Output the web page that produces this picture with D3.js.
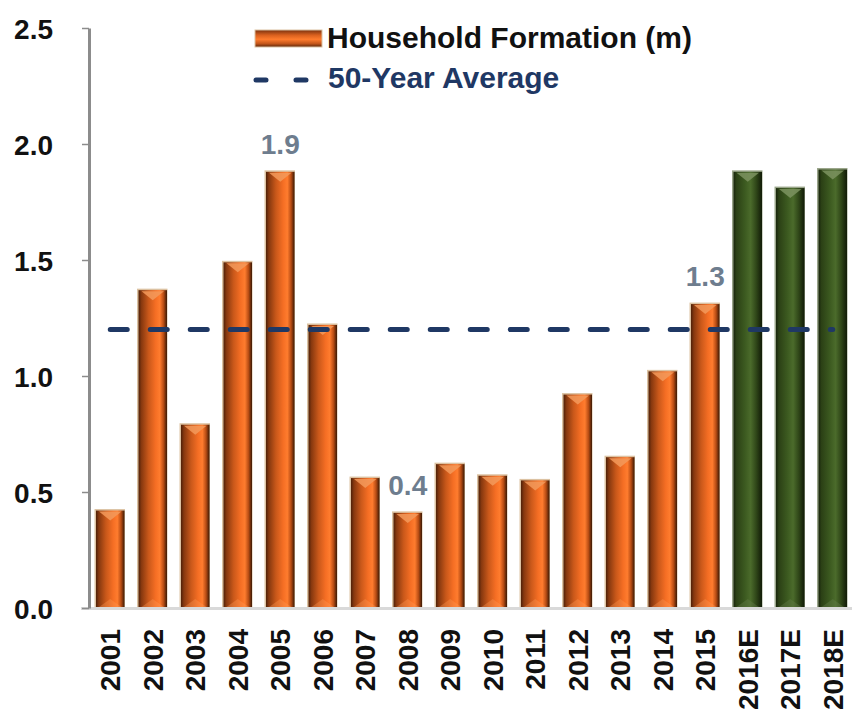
<!DOCTYPE html>
<html>
<head>
<meta charset="utf-8">
<script src="https://cdn.jsdelivr.net/npm/d3@7"></script>
<style>
  body { margin: 0; background: #fff; }
  svg { display: block; font-family: "Liberation Sans", Arial, sans-serif; }
</style>
</head>
<body>
<div id="chart"></div>
<script>
// chart data
const years = ["2001", "2002", "2003", "2004", "2005", "2006", "2007", "2008", "2009",
  "2010", "2011", "2012", "2013", "2014", "2015", "2016E", "2017E", "2018E"];
const formation = [0.42, 1.37, 0.79, 1.49, 1.88, 1.22, 0.56, 0.41, 0.62,
  0.57, 0.55, 0.92, 0.65, 1.02, 1.31, 1.88, 1.81, 1.89];
const estimateYears = ["2016E", "2017E", "2018E"];
const average50 = 1.2;
const yTicks = [0, 0.5, 1.0, 1.5, 2.0, 2.5];
const labelYears = ["2005", "2008", "2015"];
const labelTexts = ["1.9", "0.4", "1.3"];
const legendNames = ["Household Formation (m)", "50-Year Average"];

const width = 852, height = 713;
const margin = {top: 28, right: 0, bottom: 105, left: 89};

const svg = d3.select("#chart").append("svg")
  .attr("width", width)
  .attr("height", height);

const defs = svg.append("defs");

// gradients for the bevelled bars
function hGrad(id, stops) {
  const g = defs.append("linearGradient").attr("id", id)
    .attr("x1", "0%").attr("x2", "100%").attr("y1", "0%").attr("y2", "0%");
  stops.forEach(s => g.append("stop").attr("offset", s[0]).attr("stop-color", s[1]));
}
hGrad("orange", [["0%", "#4e2008"], ["10%", "#86380f"], ["35%", "#c9581a"], ["60%", "#f56e24"],
  ["75%", "#ff7c2e"], ["88%", "#b74c14"], ["100%", "#3a1804"]]);
hGrad("green", [["0%", "#18240b"], ["10%", "#2b4015"], ["40%", "#3c5a20"], ["60%", "#4b6b2b"],
  ["80%", "#2f4618"], ["100%", "#111a07"]]);

const sw = defs.append("linearGradient").attr("id", "swatch")
  .attr("x1", "0%").attr("x2", "0%").attr("y1", "0%").attr("y2", "100%");
[["0%", "#7a3210"], ["30%", "#d9601e"], ["55%", "#ff7c2e"], ["80%", "#c4561a"], ["100%", "#5c260a"]]
  .forEach(s => sw.append("stop").attr("offset", s[0]).attr("stop-color", s[1]));

const x = d3.scaleBand()
  .domain(years)
  .range([margin.left, width + 2])
  .paddingInner(0.33)
  .paddingOuter(0.165);

const y = d3.scaleLinear()
  .domain([0, 2.5])
  .range([height - margin.bottom, margin.top]);

// baseline
svg.append("line")
  .attr("x1", margin.left - 8).attr("x2", width)
  .attr("y1", y(0) + 0.5).attr("y2", y(0) + 0.5)
  .attr("stroke", "#d9d9d9").attr("stroke-width", 3);

// bars
const bars = svg.selectAll("g.bar")
  .data(years.map((d, i) => ({year: d, value: formation[i]})))
  .enter().append("g")
  .attr("class", "bar");

const bw = x.bandwidth();
const isEst = d => estimateYears.includes(d.year);

bars.append("rect")
  .attr("x", d => x(d.year) - 1.5)
  .attr("y", d => y(d.value) - 1.5)
  .attr("width", bw + 2)
  .attr("height", d => y(0) - y(d.value) + 0.5)
  .attr("fill", d => isEst(d) ? "#9aa58a" : "#dcc2a2");

bars.append("rect")
  .attr("x", d => x(d.year))
  .attr("y", d => y(d.value))
  .attr("width", bw)
  .attr("height", d => y(0) - y(d.value) - 1)
  .attr("fill", d => isEst(d) ? "url(#green)" : "url(#orange)");

// top chevron
bars.append("polygon")
  .attr("points", d => {
    const x0 = x(d.year), y0 = y(d.value);
    return [[x0 + 3, y0 + 1], [x0 + bw - 3, y0 + 1], [x0 + bw / 2, y0 + 10]].join(" ");
  })
  .attr("fill", d => isEst(d) ? "#7d9360" : "#f39a5c")
  .attr("opacity", 0.85);

// bottom bevel
bars.append("polygon")
  .attr("points", d => {
    const x0 = x(d.year), y1 = y(0) - 1;
    return [[x0 + 3, y1], [x0 + bw - 3, y1], [x0 + bw / 2, y1 - 8]].join(" ");
  })
  .attr("fill", d => isEst(d) ? "#6a8050" : "#ff9a55")
  .attr("opacity", 0.35);

// 50-year average line, from first to last bar centre
svg.append("line")
  .attr("x1", x(years[0]) + bw / 2)
  .attr("x2", x(years[years.length - 1]) + bw / 2)
  .attr("y1", y(average50)).attr("y2", y(average50))
  .attr("stroke", "#1f3864")
  .attr("stroke-width", 5)
  .attr("stroke-linecap", "round")
  .attr("stroke-dasharray", "17,23");

// y axis
const yAxis = svg.append("g")
  .attr("transform", `translate(${margin.left},0)`)
  .call(d3.axisLeft(y).tickValues(yTicks).tickFormat(d3.format(".1f")).tickSize(7).tickSizeOuter(0));
yAxis.select(".domain").attr("stroke", "#8c8c8c").attr("stroke-width", 3);
yAxis.selectAll(".tick line").attr("stroke", "#8c8c8c").attr("stroke-width", 1.5);
yAxis.selectAll(".tick text")
  .attr("x", -36)
  .attr("dy", "0.36em")
  .attr("fill", "#111")
  .style("font-size", "28px")
  .style("font-weight", "bold");

// x axis labels
const xAxis = svg.append("g")
  .attr("transform", `translate(0,${y(0)})`)
  .call(d3.axisBottom(x).tickSize(0));
xAxis.select(".domain").remove();
xAxis.selectAll(".tick text")
  .attr("transform", "rotate(-90)")
  .attr("x", -21)
  .attr("y", 0)
  .attr("dy", "0.36em")
  .style("text-anchor", "end")
  .attr("fill", "#111")
  .style("font-size", "28px")
  .style("font-weight", "bold");

// value labels
svg.selectAll("text.value")
  .data(labelYears)
  .enter().append("text")
  .attr("class", "value")
  .attr("x", d => x(d) + bw / 2)
  .attr("y", d => y(formation[years.indexOf(d)]) - 18)
  .attr("text-anchor", "middle")
  .attr("fill", "#6e7d8e")
  .style("font-size", "28px")
  .style("font-weight", "bold")
  .text((d, i) => labelTexts[i]);

// legend
const legend = svg.append("g");
legend.append("rect")
  .attr("x", 255).attr("y", 30).attr("width", 67).attr("height", 17)
  .attr("fill", "url(#swatch)")
  .attr("stroke", "#dcc2a2").attr("stroke-width", 1);
legend.append("text")
  .attr("x", 327).attr("y", 48)
  .attr("fill", "#111")
  .style("font-size", "30px")
  .style("font-weight", "bold")
  .text(legendNames[0]);
legend.append("line")
  .attr("x1", 256).attr("x2", 311)
  .attr("y1", 80).attr("y2", 80)
  .attr("stroke", "#1f3864")
  .attr("stroke-width", 5)
  .attr("stroke-linecap", "round")
  .attr("stroke-dasharray", "10,30");
legend.append("text")
  .attr("x", 328).attr("y", 88)
  .attr("fill", "#1f3864")
  .style("font-size", "30px")
  .style("font-weight", "bold")
  .text(legendNames[1]);
</script>
</body>
</html>
